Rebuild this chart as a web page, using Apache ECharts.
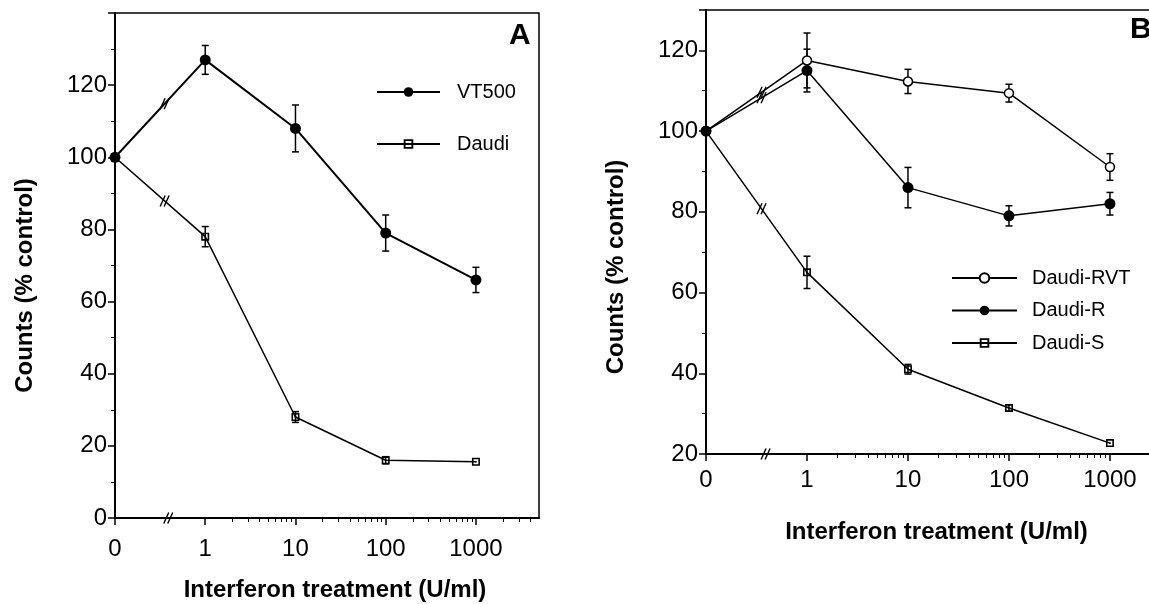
<!DOCTYPE html>
<html><head><meta charset="utf-8">
<script src="https://cdn.jsdelivr.net/npm/echarts@6/dist/echarts.min.js"></script>
<style>html,body{margin:0;padding:0;background:#fff}#c{width:1149px;height:604px}</style>
</head><body><div id="c"></div>
<script>
// ---- data ----
const doseLabels = ['0', '1', '10', '100', '1000'];
const dosePos = [0.1, 1, 10, 100, 1000]; // "0" is drawn one decade below 1, behind the axis break
const minorTicksA = [2,3,4,5,6,7,8,9,20,30,40,50,60,70,80,90,200,300,400,500,600,700,800,900,2000,3000,4000];
const minorTicksB = [2,3,4,5,6,7,8,9,20,30,40,50,60,70,80,90,200,300,400,500,600,700,800,900];
const xMaxA = 5000, xMaxB = 2550;

// Panel A
const vt500 = [100, 127, 108, 79, 66];
const vt500Err = [0, 4, 6.5, 5, 3.5];
const daudi = [100, 78, 28, 16, 15.6];
const daudiErr = [0, 2.8, 1.5, 1, 0];
// Panel B
const daudiRVT = [100, 117.5, 112.3, 109.4, 91.1];
const daudiRVTErr = [0, 6.8, 3, 2.2, 3.3];
const daudiR = [100, 115, 86, 79, 82];
const daudiRErr = [0, 5.3, 5, 2.5, 2.8];
const daudiS = [100, 65, 41, 31.4, 22.7];
const daudiSErr = [0, 4, 1.2, 0.8, 0];

const yTitle = 'Counts (% control)';
const xTitle = 'Interferon treatment (U/ml)';

// ---- styling ----
const FONT = 'Liberation Sans, Arial, Helvetica, sans-serif';
const SQUARE = 'path://M0,0H10V10H0Z M2,2V8H8V2Z M4,4H6V6H4Z';
const BREAK_T = 0.55, AXIS_BREAK_T = 0.59;

function lineSeries(name, vals, gi, symbol, size, width, hollow) {
  return {
    type: 'line', name, xAxisIndex: gi, yAxisIndex: gi,
    data: dosePos.map((x, i) => [x, vals[i]]),
    symbol, symbolSize: size, showAllSymbol: true,
    lineStyle: { color: '#000', width },
    itemStyle: hollow ? { color: '#fff', borderColor: '#000', borderWidth: 1.5 } : { color: '#000' },
    z: 4
  };
}
function errSeries(vals, errs, gi) {
  return {
    type: 'custom', xAxisIndex: gi, yAxisIndex: gi, silent: true, z: 3,
    data: dosePos.map((x, i) => [x, vals[i], errs[i]]),
    encode: { x: 0, y: 1 },
    renderItem(params, api) {
      const x = api.value(0), y = api.value(1), e = api.value(2);
      if (!e) return null;
      const t = api.coord([x, y + e]), b = api.coord([x, y - e]);
      const w = 3.5, st = { stroke: '#000', lineWidth: 1.5 };
      return { type: 'group', children: [
        { type: 'line', shape: { x1: t[0], y1: t[1], x2: b[0], y2: b[1] }, style: st },
        { type: 'line', shape: { x1: t[0] - w, y1: t[1], x2: t[0] + w, y2: t[1] }, style: st },
        { type: 'line', shape: { x1: b[0] - w, y1: b[1], x2: b[0] + w, y2: b[1] }, style: st }
      ]};
    }
  };
}
// break marks "//" on the first segment of each line and on the x axis
function breakSeries(lines, gi, ymin) {
  const data = lines.map(v => [dosePos[0], v[0], dosePos[1], v[1], BREAK_T]);
  data.push([dosePos[0], ymin, dosePos[1], ymin, AXIS_BREAK_T]);
  return {
    type: 'custom', xAxisIndex: gi, yAxisIndex: gi, silent: true, z: 5,
    data, encode: { x: [0, 2], y: [1, 3] },
    renderItem(params, api) {
      const p0 = api.coord([api.value(0), api.value(1)]);
      const p1 = api.coord([api.value(2), api.value(3)]);
      const t = api.value(4);
      const mx = p0[0] + (p1[0] - p0[0]) * t, my = p0[1] + (p1[1] - p0[1]) * t;
      const st = { stroke: '#000', lineWidth: 1.4 };
      const ch = [-2, 2].map(dx => ({ type: 'line',
        shape: { x1: mx + dx - 2.5, y1: my + 5.5, x2: mx + dx + 2.5, y2: my - 5.5 }, style: st }));
      return { type: 'group', children: ch };
    }
  };
}
function xMain(gi, max, margin, nameGap, pad) {
  return {
    type: 'log', logBase: 10, gridIndex: gi, min: 0.1, max,
    axisLine: { show: true, onZero: false, lineStyle: { color: '#000', width: 2 } },
    axisTick: { show: true, length: 7, customValues: dosePos, lineStyle: { color: '#000', width: 1.5 } },
    axisLabel: { customValues: dosePos, margin, fontSize: 24, color: '#000', fontFamily: FONT,
      formatter: v => { const i = dosePos.findIndex(p => Math.abs(Math.log10(p) - Math.log10(v)) < 1e-6); return i >= 0 ? doseLabels[i] : ''; } },
    splitLine: { show: false },
    name: xTitle, nameLocation: 'middle', nameGap,
    nameTextStyle: { fontSize: 24, fontWeight: 'bold', color: '#000', fontFamily: FONT, padding: pad }
  };
}
function xMinor(gi, max, ticks) {
  return {
    type: 'log', logBase: 10, gridIndex: gi, min: 0.1, max, position: 'bottom',
    axisLine: { show: false }, axisLabel: { show: false }, splitLine: { show: false },
    axisTick: { show: true, length: 4, customValues: ticks, lineStyle: { color: '#000', width: 1 } }
  };
}
function yAxis(gi, min, max, nameGap, pad) {
  return {
    type: 'value', gridIndex: gi, min, max, interval: 20,
    axisLine: { show: true, lineStyle: { color: '#000', width: 2 } },
    axisTick: { show: true, length: 7, lineStyle: { color: '#000', width: 1.5 } },
    minorTick: { show: true, splitNumber: 2, length: 4, lineStyle: { color: '#000', width: 1 } },
    axisLabel: { showMaxLabel: false, margin: 8, fontSize: 24, color: '#000', fontFamily: FONT },
    splitLine: { show: false },
    name: yTitle, nameLocation: 'middle', nameGap,
    nameTextStyle: { fontSize: 24, fontWeight: 'bold', color: '#000', fontFamily: FONT, padding: pad }
  };
}

const chart = echarts.init(document.getElementById('c'), null, { renderer: 'canvas' });
chart.setOption({
  animation: false,
  backgroundColor: '#fff',
  textStyle: { fontFamily: FONT },
  title: [
    { text: 'A', left: 509, top: 21, padding: 0, textStyle: { fontSize: 30, fontWeight: 'bold', color: '#000', fontFamily: FONT } },
    { text: 'B', left: 1130, top: 15, padding: 0, textStyle: { fontSize: 30, fontWeight: 'bold', color: '#000', fontFamily: FONT } }
  ],
  grid: [
    { left: 115, top: 13, width: 424, height: 505, outerBoundsMode: 'none', containLabel: false,
      show: true, borderColor: '#000', borderWidth: 1.5, backgroundColor: 'transparent' },
    { left: 706, top: 10, width: 445, height: 444, outerBoundsMode: 'none', containLabel: false,
      show: true, borderColor: '#000', borderWidth: 1.5, backgroundColor: 'transparent' }
  ],
  legend: [
    { data: ['VT500', 'Daudi'], orient: 'vertical', left: 371, top: 77, itemWidth: 63, itemHeight: 12, itemGap: 32,
      selectedMode: false, textStyle: { fontSize: 20, color: '#000', fontFamily: FONT, padding: [0, 0, 0, 12] } },
    { data: ['Daudi-RVT', 'Daudi-R', 'Daudi-S'], orient: 'vertical', left: 946, top: 263, itemWidth: 65, itemHeight: 12, itemGap: 12.5,
      selectedMode: false, textStyle: { fontSize: 20, color: '#000', fontFamily: FONT, padding: [0, 0, 0, 10] } }
  ],
  xAxis: [xMain(0, xMaxA, 19, 60, [0, 0, 0, 16]), xMain(1, xMaxB, 14, 66, [0, 0, 0, 16]),
          xMinor(0, xMaxA, minorTicksA), xMinor(1, xMaxB, minorTicksB)],
  yAxis: [yAxis(0, 0, 140, 78, [0, 40, 0, 0]), yAxis(1, 20, 130, 78, [0, 70, 0, 0])],
  series: [
    errSeries(vt500, vt500Err, 0),
    errSeries(daudi, daudiErr, 0),
    lineSeries('VT500', vt500, 0, 'circle', 11, 2, false),
    lineSeries('Daudi', daudi, 0, SQUARE, 8, 1.5, false),
    breakSeries([vt500, daudi], 0, 0),
    errSeries(daudiRVT, daudiRVTErr, 1),
    errSeries(daudiR, daudiRErr, 1),
    errSeries(daudiS, daudiSErr, 1),
    lineSeries('Daudi-RVT', daudiRVT, 1, 'circle', 9, 1.5, true),
    lineSeries('Daudi-R', daudiR, 1, 'circle', 11, 1.5, false),
    lineSeries('Daudi-S', daudiS, 1, SQUARE, 8, 1.5, false),
    breakSeries([daudiRVT, daudiR, daudiS], 1, 20)
  ]
});
</script></body></html>
